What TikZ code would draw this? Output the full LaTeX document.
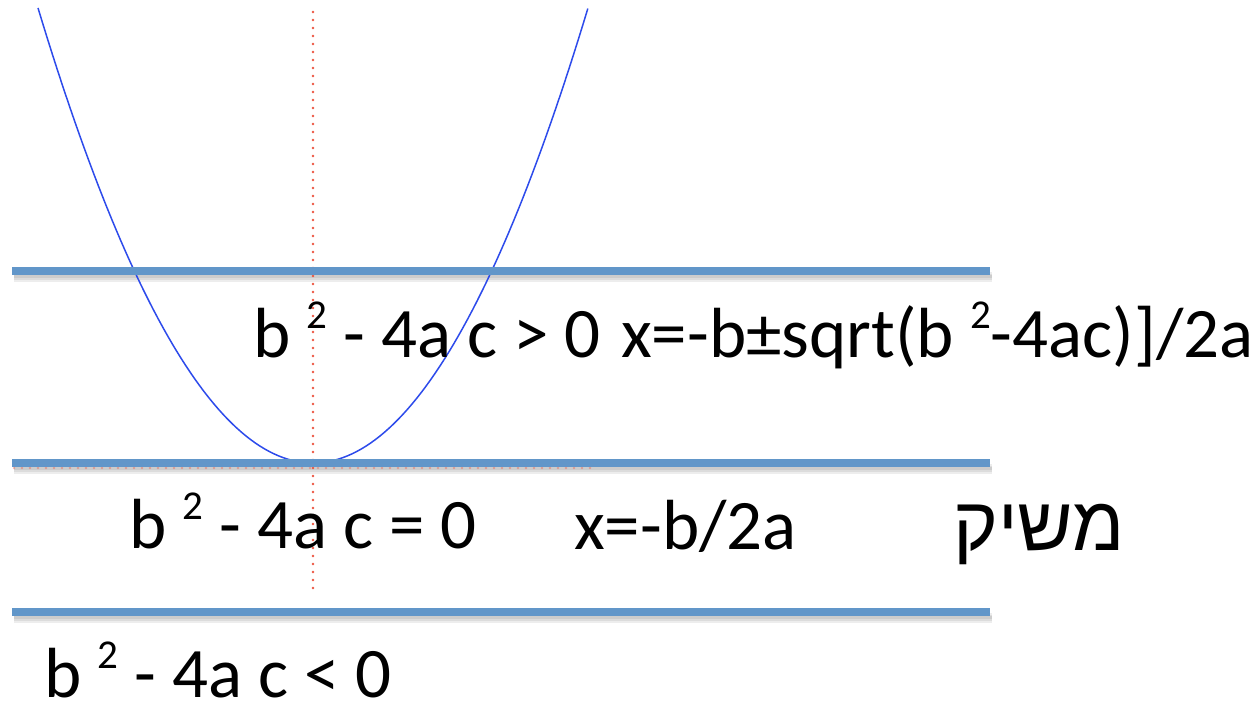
\documentclass[tikz,border=0pt]{standalone}
\usepackage{fontspec}
\setmainfont{Carlito}
\newfontfamily\hebfont[Script=Hebrew]{Liberation Sans}
\TeXXeTstate=1
\definecolor{lineblue}{RGB}{97,150,201}
\definecolor{curveblue}{RGB}{45,75,235}
\definecolor{dotred}{RGB}{236,85,65}
\newcommand{\supii}{\raisebox{29pt}{\fontsize{41}{41}\selectfont 2}}
\begin{document}
\begin{tikzpicture}[x=1pt,y=-1pt,
  hline/.style={line width=8pt,color=lineblue},
  hshadow/.style={line width=#1,color=black,opacity=0.07},
  dotline/.style={line width=2.8pt,color=dotred,dash pattern=on 0pt off 8pt,line cap=round},
  curve/.style={line width=1.5pt,color=curveblue},
  lbl/.style={anchor=base west,inner sep=0pt,font=\fontsize{71}{71}\selectfont}]
\useasboundingbox (0,0) rectangle (1259,704);
% shadows
\foreach \yy in {271,463,612}{
  \draw[hshadow=10pt] (14,\yy+6) -- (992,\yy+6);
  \draw[hshadow=6pt] (14,\yy+6) -- (992,\yy+6);
  \draw[hshadow=3pt] (14,\yy+5) -- (992,\yy+5);
}
% dotted axes
\coordinate (vt) at (313,12);
\coordinate (vb) at (313,590);
\coordinate (hl) at (14,468);
\coordinate (hr) at (597,468);
\draw[dotline] (vt) -- (vb);
\draw[dotline,opacity=0.4] (hl) -- (hr);
% parabola
\draw[curve] plot[domain=-2.75:2.75,samples=120] ({313+100*\x},{463-60.17*\x*\x});
% lines
\coordinate (l1a) at (12,271); \coordinate (l1b) at (990,271);
\coordinate (l2a) at (12,463); \coordinate (l2b) at (990,463);
\coordinate (l3a) at (12,612); \coordinate (l3b) at (990,612);
\draw[hline] (l1a) -- (l1b);
\draw[hline] (l2a) -- (l2b);
\draw[hline] (l3a) -- (l3b);
% labels
\node[lbl] (t1) at (253,357) {b \supii\ - 4a c > 0};
\node[lbl] (t2) at (621,357) {x=-b±sqrt(b \supii-4ac)]/2a};
\node[lbl] (t3) at (129,548) {b \supii\ - 4a c = 0};
\node[lbl] (t4) at (574,549) {x=-b/2a};
\node[lbl,font=\fontsize{76}{76}\selectfont] (t5) at (953,550) {\hebfont\beginR משיק\endR};
\node[lbl] (t6) at (44,697) {b \supii\ - 4a c < 0};
\end{tikzpicture}
\end{document}
